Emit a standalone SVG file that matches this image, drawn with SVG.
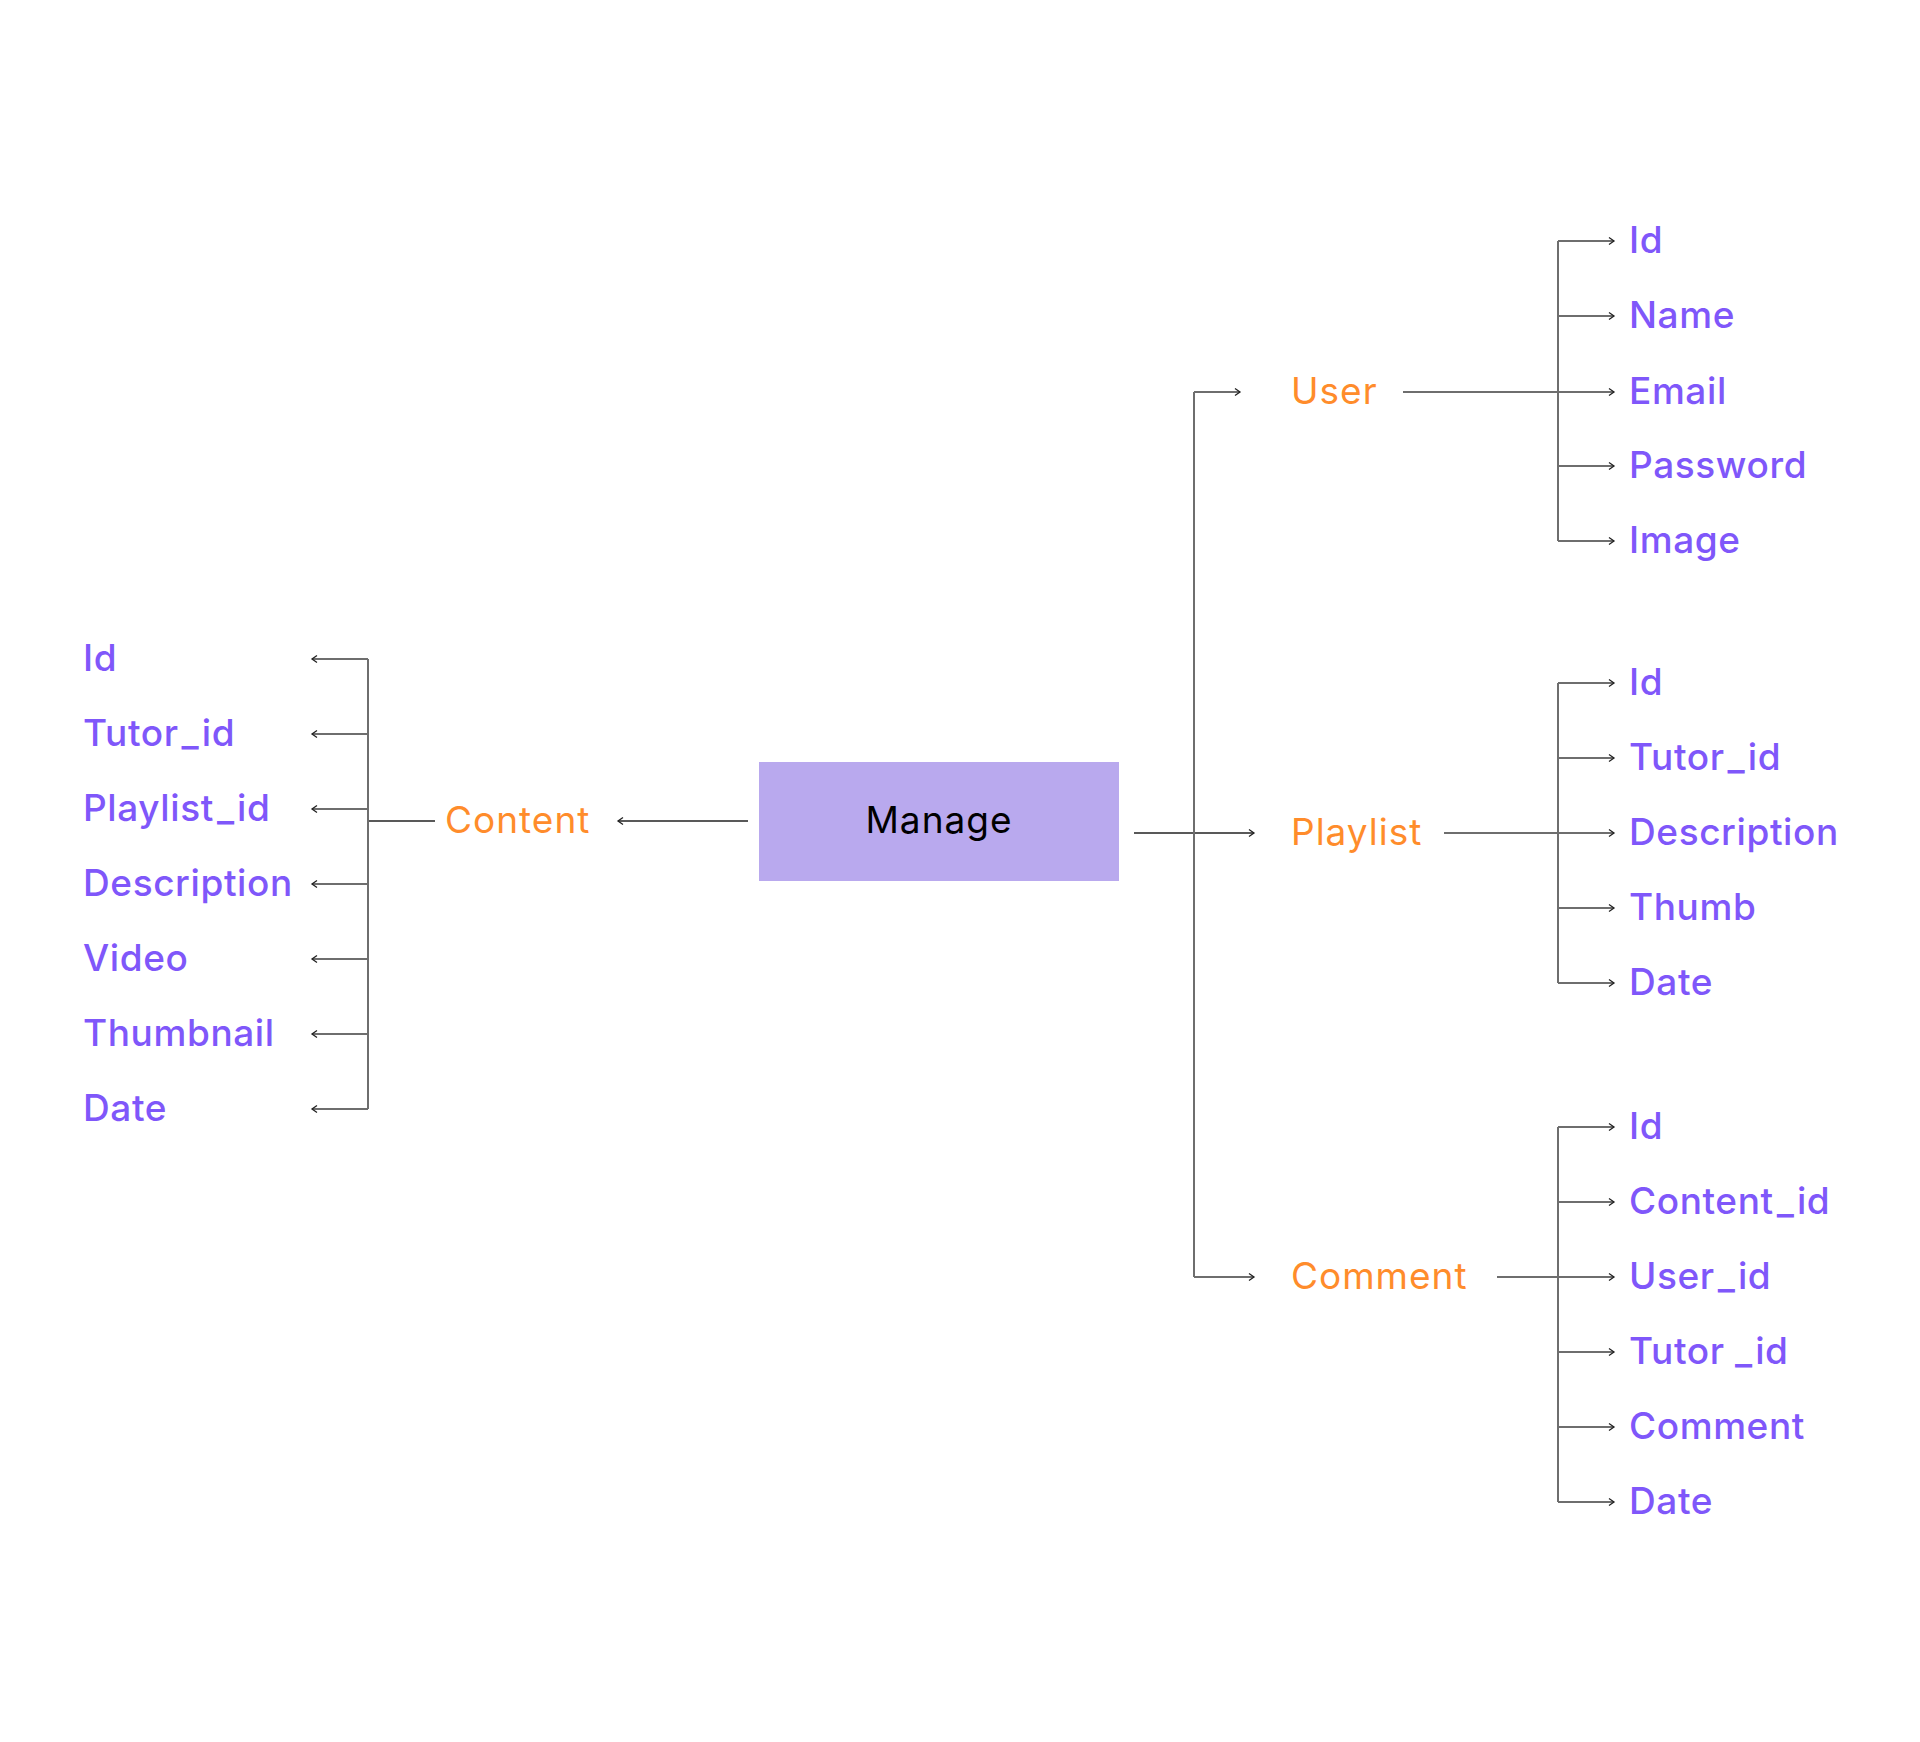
<svg xmlns="http://www.w3.org/2000/svg" width="1920" height="1742" viewBox="0 0 1920 1742">
<defs>
<marker id="arr" markerUnits="userSpaceOnUse" markerWidth="10" markerHeight="10" refX="7" refY="5" orient="auto">
<path d="M2,1.5 L7,5 L2,8.5" fill="none" stroke="#222" stroke-width="1.3"/>
</marker>
<style>
.g{stroke:#6e6e6e;stroke-width:2;fill:none}
.k{stroke:#222;stroke-width:1.5;fill:none}
.a{marker-end:url(#arr)}
text{font-family:Inter,"Noto Sans","Liberation Sans",sans-serif;font-size:37px;font-weight:500;letter-spacing:0.6px}
.p{fill:#7F57FA}
.o{fill:#FF8C2B;font-weight:400;letter-spacing:1px}
.m{fill:#000;text-anchor:middle;font-weight:400;letter-spacing:1px}
.u{letter-spacing:3px}
</style>
</defs>
<rect width="1920" height="1742" fill="#fff"/>
<g id="connectors">
<line class="k a" x1="748" y1="821" x2="618" y2="821"/>
<line class="k" x1="368" y1="821" x2="435" y2="821"/>
<line class="g" x1="368" y1="659" x2="368" y2="1109"/>
<line class="g a" x1="368" y1="659" x2="312" y2="659"/>
<line class="g a" x1="368" y1="734" x2="312" y2="734"/>
<line class="g a" x1="368" y1="809" x2="312" y2="809"/>
<line class="g a" x1="368" y1="884" x2="312" y2="884"/>
<line class="g a" x1="368" y1="959" x2="312" y2="959"/>
<line class="g a" x1="368" y1="1034" x2="312" y2="1034"/>
<line class="g a" x1="368" y1="1109" x2="312" y2="1109"/>
<line class="k a" x1="1134" y1="833" x2="1254" y2="833"/>
<line class="g" x1="1194" y1="392" x2="1194" y2="1277"/>
<line class="g a" x1="1194" y1="392" x2="1240" y2="392"/>
<line class="g a" x1="1194" y1="1277" x2="1254" y2="1277"/>
<line class="g a" x1="1403" y1="392" x2="1614" y2="392"/>
<line class="g" x1="1558" y1="241" x2="1558" y2="541"/>
<line class="g a" x1="1558" y1="241" x2="1614" y2="241"/>
<line class="g a" x1="1558" y1="316" x2="1614" y2="316"/>
<line class="g a" x1="1558" y1="466" x2="1614" y2="466"/>
<line class="g a" x1="1558" y1="541" x2="1614" y2="541"/>
<line class="g a" x1="1444" y1="833" x2="1614" y2="833"/>
<line class="g" x1="1558" y1="683" x2="1558" y2="983"/>
<line class="g a" x1="1558" y1="683" x2="1614" y2="683"/>
<line class="g a" x1="1558" y1="758" x2="1614" y2="758"/>
<line class="g a" x1="1558" y1="908" x2="1614" y2="908"/>
<line class="g a" x1="1558" y1="983" x2="1614" y2="983"/>
<line class="g a" x1="1497" y1="1277" x2="1614" y2="1277"/>
<line class="g" x1="1558" y1="1127" x2="1558" y2="1502"/>
<line class="g a" x1="1558" y1="1127" x2="1614" y2="1127"/>
<line class="g a" x1="1558" y1="1202" x2="1614" y2="1202"/>
<line class="g a" x1="1558" y1="1352" x2="1614" y2="1352"/>
<line class="g a" x1="1558" y1="1427" x2="1614" y2="1427"/>
<line class="g a" x1="1558" y1="1502" x2="1614" y2="1502"/>
</g>
<g id="manage"><rect x="759" y="762" width="360" height="119" fill="#B9A9EE"/><text class="m" x="939" y="833">Manage</text></g>
<g id="content"><text class="o" x="445" y="833">Content</text></g>
<g id="content-fields">
<text class="p" x="83" y="671">Id</text>
<text class="p" x="83" y="746">Tutor<tspan class="u" dx="3">_</tspan>id</text>
<text class="p" x="83" y="821">Playlist<tspan class="u" dx="3">_</tspan>id</text>
<text class="p" x="83" y="896">Description</text>
<text class="p" x="83" y="971">Video</text>
<text class="p" x="83" y="1046">Thumbnail</text>
<text class="p" x="83" y="1121">Date</text>
</g>
<g id="user"><text class="o" x="1291" y="404">User</text></g>
<g id="user-fields">
<text class="p" x="1629" y="253">Id</text>
<text class="p" x="1629" y="328">Name</text>
<text class="p" x="1629" y="404">Email</text>
<text class="p" x="1629" y="478">Password</text>
<text class="p" x="1629" y="553">Image</text>
</g>
<g id="playlist"><text class="o" x="1291" y="845">Playlist</text></g>
<g id="playlist-fields">
<text class="p" x="1629" y="695">Id</text>
<text class="p" x="1629" y="770">Tutor<tspan class="u" dx="3">_</tspan>id</text>
<text class="p" x="1629" y="845">Description</text>
<text class="p" x="1629" y="920">Thumb</text>
<text class="p" x="1629" y="995">Date</text>
</g>
<g id="comment"><text class="o" x="1291" y="1289">Comment</text></g>
<g id="comment-fields">
<text class="p" x="1629" y="1139">Id</text>
<text class="p" x="1629" y="1214">Content<tspan class="u" dx="3">_</tspan>id</text>
<text class="p" x="1629" y="1289">User<tspan class="u" dx="3">_</tspan>id</text>
<text class="p" x="1629" y="1364">Tutor <tspan class="u">_</tspan>id</text>
<text class="p" x="1629" y="1439">Comment</text>
<text class="p" x="1629" y="1514">Date</text>
</g>
</svg>
